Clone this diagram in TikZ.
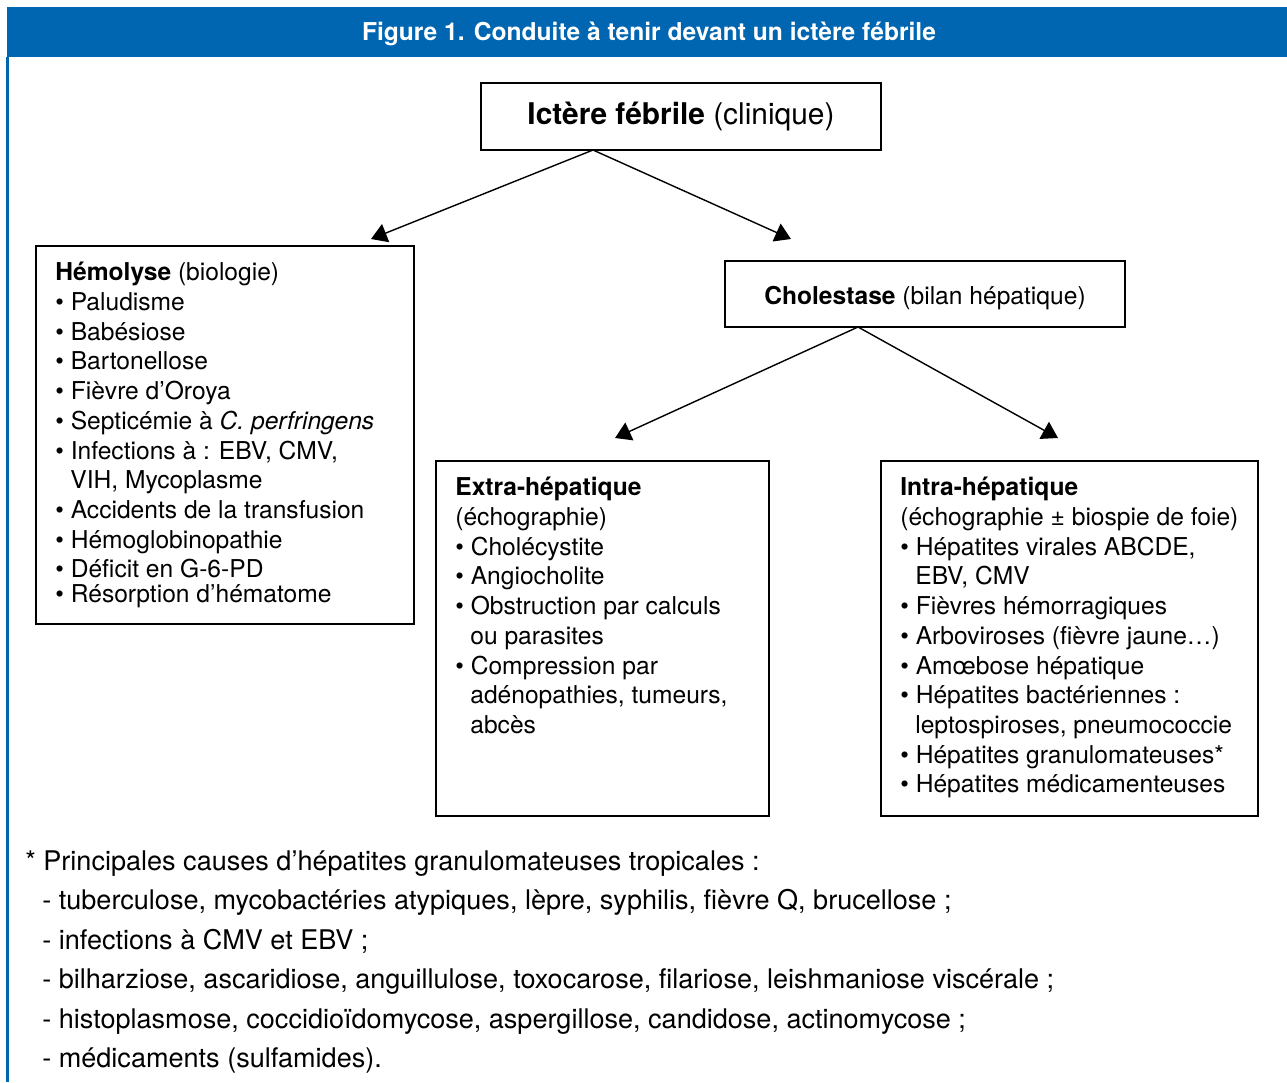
\documentclass[tikz,border=0pt]{standalone}
\usepackage{fontspec}
\setmainfont{TeX Gyre Heros}
\usepackage{xcolor}
\usepackage{tikz}
\usetikzlibrary{arrows.meta,positioning}
\definecolor{figblue}{RGB}{0,102,177}
\newcommand{\ind}{\hspace*{0.3cm}}

\begin{document}
\begin{tikzpicture}[
  x=0.02cm, y=-0.02cm,
  font=\fontsize{14pt}{16.9pt}\selectfont,
  box/.style={draw,line width=1.2pt,inner sep=0pt},
  txt/.style={anchor=north west,inner sep=0pt,align=left},
  link/.style={line width=0.8pt,-{Triangle[width=11pt,length=9pt]}},
]
\useasboundingbox (0,0) rectangle (1287,1082);
\fill[white] (0,0) rectangle (1287,1082);
% header band and left rule
\fill[figblue] (7,7) rectangle (1287,57);
\draw[figblue,line width=1.6pt] (7.5,57) -- (7.5,1082);
\node[text=white,font=\fontsize{14pt}{17pt}\selectfont\bfseries] (title) at (649,34)
  {Figure 1. Conduite à tenir devant un ictère fébrile};

% boxes
\node[box,minimum width=8cm,minimum height=1.34cm] (ictere) at (681,116.5)
  {\fontsize{17pt}{20pt}\selectfont\textbf{Ictère fébrile} (clinique)};
\node[box,minimum width=7.56cm,minimum height=7.56cm] (hemo) at (225,435) {};
\node[box,minimum width=8cm,minimum height=1.32cm] (chol) at (925,294)
  {\raisebox{-0.08cm}[\height][\depth]{\textbf{Cholestase} (bilan hépatique)}};
\node[box,minimum width=6.66cm,minimum height=7.1cm] (extra) at (602.5,638.5) {};
\node[box,minimum width=7.54cm,minimum height=7.1cm] (intra) at (1069.5,638.5) {};

\node[txt] (hemotxt) at (55,262) {\textbf{Hémolyse} (biologie)\\
• Paludisme\\
• Babésiose\\
• Bartonellose\\
• Fièvre d’Oroya\\
• Septicémie à \textit{C. perfringens}\\
• Infections à : EBV, CMV,\\
\ind VIH, Mycoplasme\\
• Accidents de la transfusion\\
• Hémoglobinopathie\\
• Déficit en G-6-PD\\[-0.1cm]
• Résorption d’hématome};

\node[txt] (extratxt) at (455,477) {\textbf{Extra-hépatique}\\
(échographie)\\
• Cholécystite\\
• Angiocholite\\
• Obstruction par calculs\\
\ind ou parasites\\
• Compression par\\
\ind adénopathies, tumeurs,\\
\ind abcès};

\node[txt] (intratxt) at (900,477) {\textbf{Intra-hépatique}\\
(échographie ± biospie de foie)\\
• Hépatites virales ABCDE,\\
\ind EBV, CMV\\
• Fièvres hémorragiques\\
• Arboviroses (fièvre jaune…)\\
• Amœbose hépatique\\
• Hépatites bactériennes :\\
\ind leptospiroses, pneumococcie\\
• Hépatites granulomateuses*\\
• Hépatites médicamenteuses};

% arrows
\coordinate (ictere-out) at (593,150);
\coordinate (hemo-in) at (371,239);
\coordinate (chol-in) at (791,239);
\coordinate (chol-out) at (858,327);
\coordinate (extra-in) at (615,438);
\coordinate (intra-in) at (1058,438);
\draw[link] (ictere-out) -- (hemo-in);
\draw[link] (ictere-out) -- (chol-in);
\draw[link] (chol-out) -- (extra-in);
\draw[link] (chol-out) -- (intra-in);

% footnote
\node[txt,font=\fontsize{15.4pt}{22.5pt}\selectfont] (notes) at (25,850)
  {* Principales causes d’hépatites granulomateuses tropicales :\\
\hspace*{0.34cm}- tuberculose, mycobactéries atypiques, lèpre, syphilis, fièvre Q, brucellose ;\\
\hspace*{0.34cm}- infections à CMV et EBV ;\\
\hspace*{0.34cm}- bilharziose, ascaridiose, anguillulose, toxocarose, filariose, leishmaniose viscérale ;\\
\hspace*{0.34cm}- histoplasmose, coccidioïdomycose, aspergillose, candidose, actinomycose ;\\
\hspace*{0.34cm}- médicaments (sulfamides).};
\end{tikzpicture}
\end{document}
